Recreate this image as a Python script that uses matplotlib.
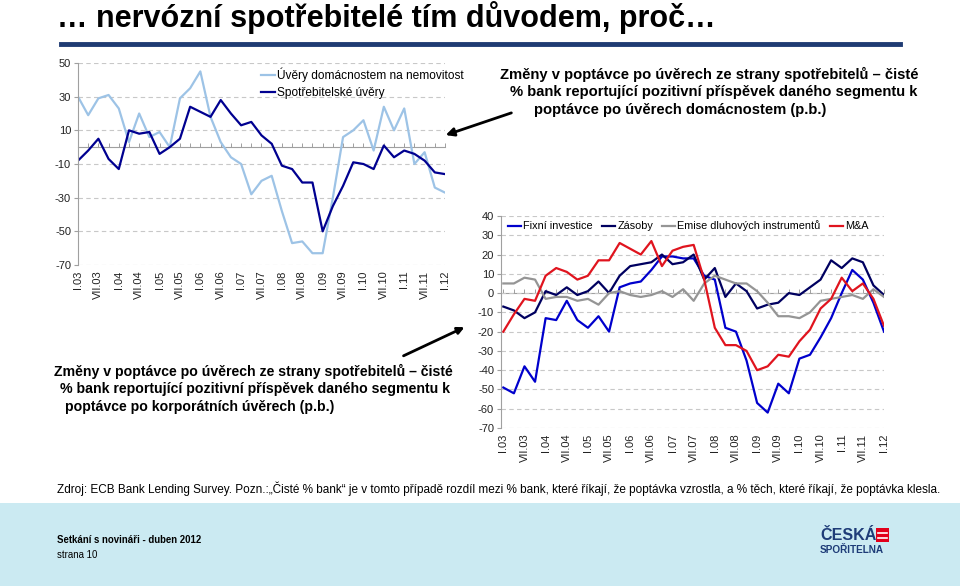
import matplotlib
matplotlib.use("Agg")
import matplotlib.pyplot as plt
from matplotlib import font_manager
from matplotlib.lines import Line2D
from matplotlib.patches import Rectangle, FancyArrowPatch

# quarterly data I.03 .. I.12 (37 quarters), net % of banks
quarters = list(range(37))
tick_labels = []
for yr in range(3, 13):
    tick_labels.append(f"I.{yr:02d}")
    if yr < 12:
        tick_labels.append(f"VII.{yr:02d}")

# households
mortgages = [30, 19, 29, 31, 23, 3, 20, 6, 9, 0, 29, 35, 45, 18, 3, -6, -10, -28, -20, -17,
             -38, -57, -56, -63, -63, -30, 6, 10, 16, -2, 24, 10, 23, -10, -3, -24, -27]
consumer = [-8, -2, 5, -7, -13, 10, 8, 9, -4, 0, 5, 24, 21, 18, 28, 20, 13, 15, 7, 2,
            -11, -13, -21, -21, -50, -35, -23, -9, -10, -13, 1, -6, -2, -4, -8, -15, -16]

# corporates
fixed_inv = [-49, -52, -38, -46, -13, -14, -4, -14, -18, -12, -20, 3, 5, 6, 12, 19, 19, 18, 18, 9,
             7, -18, -20, -35, -57, -62, -47, -52, -34, -32, -23, -13, 0, 12, 7, -5, -20]
inventories = [-7, -9, -13, -10, 1, -1, 3, -1, 1, 6, 0, 9, 14, 15, 16, 20, 15, 16, 20, 7,
               13, -2, 5, 1, -8, -6, -5, 0, -1, 3, 7, 17, 13, 18, 16, 4, -1]
debt_issue = [5, 5, 8, 7, -3, -2, -2, -4, -3, -6, 0, 1, -1, -2, -1, 1, -2, 2, -4, 5,
              9, 7, 5, 5, 1, -5, -12, -12, -13, -10, -4, -3, -2, -1, -3, 2, -2]
m_and_a = [-20, -11, -3, -4, 9, 13, 11, 7, 9, 17, 17, 26, 23, 20, 27, 14, 22, 24, 25, 7,
           -18, -27, -27, -30, -40, -38, -32, -33, -25, -19, -8, -3, 8, 1, 5, -3, -17]

box_hh = ["Změny v poptávce po úvěrech ze strany spotřebitelů \u2013 čisté",
          "% bank reportující pozitivní příspěvek daného segmentu k",
          "poptávce po úvěrech domácnostem (p.b.)"]
box_corp = ["Změny v poptávce po úvěrech ze strany spotřebitelů \u2013 čisté",
            "% bank reportující pozitivní příspěvek daného segmentu k",
            "poptávce po korporátních úvěrech (p.b.)"]

names = {f.name for f in font_manager.fontManager.ttflist}
narrow = 'Liberation Sans Narrow' if 'Liberation Sans Narrow' in names else 'Liberation Sans'
plt.rcParams['font.family'] = ['Liberation Sans', 'DejaVu Sans']
plt.rcParams['axes.unicode_minus'] = False

W, H = 960, 586
fig = plt.figure(figsize=(W / 100, H / 100), dpi=100)
fig.patch.set_facecolor('white')


def box(x0, y0, x1, y1):
    return [x0 / W, 1 - y1 / H, (x1 - x0) / W, (y1 - y0) / H]


def fx(x):
    return x / W


def fy(y):
    return 1 - y / H


def style_axes(ax, ymin, ymax, step, xlo):
    ax.set_xlim(xlo, 36)
    ax.set_ylim(ymin, ymax)
    ax.set_yticks(range(ymin, ymax + 1, step))
    ax.set_xticks(range(0, 37, 2))
    ax.set_xticklabels(tick_labels, rotation=90, fontsize=8)
    ax.tick_params(axis='x', length=0, pad=4, colors='#222222')
    ax.tick_params(axis='y', length=3, width=0.8, color='#A0A0A0', labelsize=8,
                   labelcolor='#222222', pad=2)
    for s in ['top', 'right', 'bottom']:
        ax.spines[s].set_visible(False)
    ax.spines['left'].set_color('#A0A0A0')
    ax.spines['left'].set_linewidth(0.8)
    ax.grid(axis='y', color='#C8C8C8', linestyle=(0, (4, 3)), linewidth=0.8)
    ax.set_axisbelow(True)
    # category axis crossing at zero
    sec = ax.secondary_xaxis((0 - ymin) / (ymax - ymin))
    sec.set_xticks(range(37))
    sec.set_xticklabels([])
    sec.tick_params(length=3, width=0.7, color='#A0A0A0', direction='out')
    for sp in sec.spines.values():
        sp.set_color('#A0A0A0')
        sp.set_linewidth(0.8)


# title
fig.text(fx(57), fy(18), "\u2026 nervózní spotřebitelé tím důvodem, proč\u2026", family=narrow,
         fontsize=22, fontweight='bold', va='center', ha='left', color='black')
fig.add_artist(Line2D([fx(61), fx(900)], [fy(44), fy(44)], color='#1F3B73', linewidth=3.5))

# households chart
ax1 = fig.add_axes(box(78, 63, 445, 265))
style_axes(ax1, -70, 50, 20, 0)
ax1.plot(quarters, mortgages, color='#9DC3E6', linewidth=1.6, label='Úvěry domácnostem na nemovitost')
ax1.plot(quarters, consumer, color='#000090', linewidth=1.6, label='Spotřebitelské úvěry')
fig.legend(*ax1.get_legend_handles_labels(), loc='upper left', bbox_to_anchor=(fx(259), fy(65)),
           frameon=False, fontsize=8.6, handlelength=1.1, handletextpad=0.2, labelspacing=0.45,
           borderaxespad=0, borderpad=0.2)

# corporate chart
ax2 = fig.add_axes(box(501, 216, 884, 428))
style_axes(ax2, -70, 40, 10, -0.22)
ax2.plot(quarters, fixed_inv, color='#0000CC', linewidth=1.6, label='Fixní investice')
ax2.plot(quarters, inventories, color='#000060', linewidth=1.6, label='Zásoby')
ax2.plot(quarters, debt_issue, color='#959595', linewidth=1.6, label='Emise dluhových instrumentů')
ax2.plot(quarters, m_and_a, color='#E0141E', linewidth=1.6, label='M&A')
fig.legend(*ax2.get_legend_handles_labels(), loc='center left', bbox_to_anchor=(fx(508), fy(226)),
           ncol=4, frameon=False, fontsize=7.8, handlelength=1.2, handletextpad=0.2,
           columnspacing=0.85, borderaxespad=0, borderpad=0)

# annotations
for line, x, y in zip(box_hh, [500, 510, 534], [74, 92, 110]):
    fig.text(fx(x), fy(y), line, ha='left', va='center', fontsize=10.6, fontweight='bold')
fig.add_artist(FancyArrowPatch((fx(514), fy(112)), (fx(443), fy(136)), transform=fig.transFigure,
                               arrowstyle='-|>', mutation_scale=12, color='black', linewidth=2))

for line, x, y in zip(box_corp, [54, 60, 65], [371, 389, 407]):
    fig.text(fx(x), fy(y), line, ha='left', va='center', fontsize=10.2, fontweight='bold')
fig.add_artist(FancyArrowPatch((fx(401), fy(357)), (fx(467), fy(326)), transform=fig.transFigure,
                               arrowstyle='-|>', mutation_scale=10, color='black', linewidth=2))

fig.text(fx(57), fy(489),
         "Zdroj: ECB Bank Lending Survey. Pozn.:\u201eČisté % bank\u201c je v tomto případě rozdíl mezi % bank, "
         "které říkají, že poptávka vzrostla, a % těch, které říkají, že poptávka klesla.",
         family=narrow, fontsize=8.5, va='center', ha='left')

# footer band
fig.add_artist(Rectangle((0, 0), 1, fy(503), transform=fig.transFigure, facecolor='#CBEAF2',
                         edgecolor='none', zorder=-1))
fig.text(fx(57), fy(540), "Setkání s novináři - duben 2012", family=narrow, fontsize=6.9,
         fontweight='bold', va='center', ha='left')
fig.text(fx(57), fy(555), "strana 10", family=narrow, fontsize=6.9, va='center', ha='left')

# logo
fig.text(fx(820), fy(535), "ČESKÁ", family=narrow, fontsize=11.5, fontweight='bold',
         color='#1E3C78', va='center', ha='left')
fig.text(fx(820), fy(550), "SPOŘITELNA", family=narrow, fontsize=7.2, fontweight='bold',
         color='#1E3C78', va='center', ha='left')
fig.add_artist(Rectangle((fx(876), fy(542)), 13 / W, 14 / H, transform=fig.transFigure,
                         facecolor='#E2001A', edgecolor='none'))
for yy in (533, 537.5):
    fig.add_artist(Line2D([fx(878), fx(887)], [fy(yy), fy(yy)], color='white', linewidth=1.2))

fig.savefig('out.png', dpi=100)
